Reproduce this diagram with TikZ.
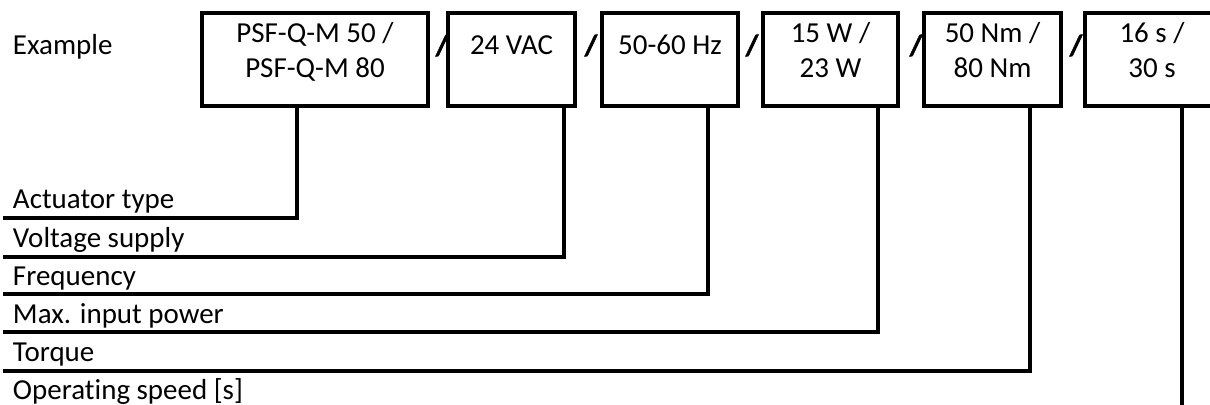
\documentclass[tikz,border=0pt]{standalone}
\usepackage{fontspec}
\setmainfont{Carlito}[Ligatures=NoCommon]
\newfontfamily\dividerfont{Carlito}[FakeBold=2]
\usetikzlibrary{positioning}

\begin{document}
\begin{tikzpicture}[x=0.025cm,y=-0.025cm,
	every node/.style={font=\fontsize{20.6pt}{25.2pt}\selectfont,inner sep=0pt,outer sep=0pt},
	field/.style={draw,line width=2.5pt,minimum height=2.325cm},
	fieldtext/.style={anchor=base,align=center},
	divider/.style={anchor=base,font=\fontsize{20.6pt}{25.2pt}\dividerfont\bfseries},
	caption/.style={anchor=base west},
	wire/.style={line width=2.5pt}]
	\useasboundingbox (0,0) rectangle (1210,405);
	\node [caption] (example) at (13,55) {Example};
	\node [field,minimum width=5.65cm] (type) at (315,59.5) {};
	\node [field,minimum width=3.175cm] (volt) at (511.5,59.5) {};
	\node [field,minimum width=3.4cm] (freq) at (670,59.5) {};
	\node [field,minimum width=3.375cm] (power) at (830.5,59.5) {};
	\node [field,minimum width=3.425cm] (torque) at (992.5,59.5) {};
	\node [field,minimum width=3.35cm] (speed) at (1152,59.5) {};
	\node [fieldtext] (typetext) at (type.center |- 0,77.5) {PSF-Q-M 50 /\\PSF-Q-M 80};
	\node [fieldtext] (volttext) at (volt.center |- 0,55) {24 VAC};
	\node [fieldtext] (freqtext) at (freq.center |- 0,55) {50-60 Hz};
	\node [fieldtext] (powertext) at (power.center |- 0,77.5) {15 W /\\23 W};
	\node [fieldtext] (torquetext) at (torque.center |- 0,77.5) {50 Nm /\\80 Nm};
	\node [fieldtext] (speedtext) at (speed.center |- 0,77.5) {16 s /\\30 s};
	\node [divider] (div1) at (442,55) {/};
	\node [divider] (div2) at (591,55) {/};
	\node [divider] (div3) at (752,55) {/};
	\node [divider] (div4) at (916,55) {/};
	\node [divider] (div5) at (1076,55) {/};
	\coordinate (bend1) at (297,218);
	\coordinate (bend2) at (564,257);
	\coordinate (bend3) at (708,294);
	\coordinate (bend4) at (878,332);
	\coordinate (bend5) at (1030,371);
	\coordinate (bend6) at (1182,405);
	\coordinate (end1) at (3,218);
	\coordinate (end2) at (3,257);
	\coordinate (end3) at (3,294);
	\coordinate (end4) at (3,332);
	\coordinate (end5) at (3,371);
	\node [caption] (typelabel) at (13,209) {Actuator type};
	\node [caption] (voltlabel) at (13,248) {Voltage supply};
	\node [caption] (freqlabel) at (13,286) {Frequency};
	\node [caption] (powerlabel) at (13,324) {Max. input power};
	\node [caption] (torquelabel) at (13,362) {Torque};
	\node [caption] (speedlabel) at (13,400) {Operating speed [s]};
	\draw [wire] (type.south -| bend1) -- (bend1) -- (end1);
	\draw [wire] (volt.south -| bend2) -- (bend2) -- (end2);
	\draw [wire] (freq.south -| bend3) -- (bend3) -- (end3);
	\draw [wire] (power.south -| bend4) -- (bend4) -- (end4);
	\draw [wire] (torque.south -| bend5) -- (bend5) -- (end5);
	\draw [wire] (speed.south -| bend6) -- (bend6);
\end{tikzpicture}
\end{document}
